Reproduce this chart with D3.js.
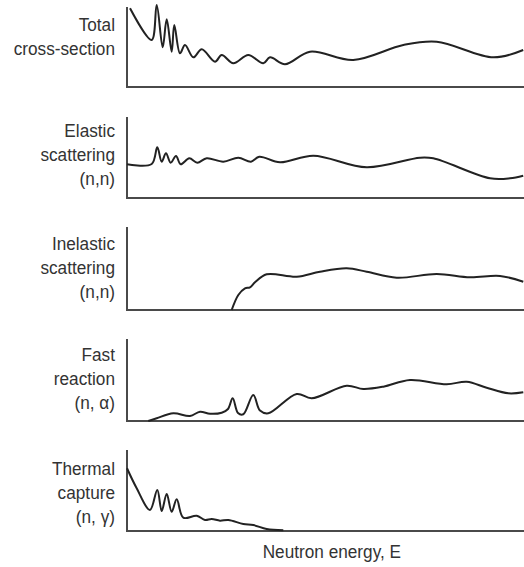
<!DOCTYPE html>
<html>
<head>
<meta charset="utf-8">
<script src="https://cdn.jsdelivr.net/npm/d3@7"></script>
<style>
  html, body { margin: 0; padding: 0; background: #fff; }
  svg { display: block; }
  text { font-family: "Liberation Sans", Arial, sans-serif; fill: #333; }
</style>
</head>
<body>
<svg id="chart" width="524" height="567"></svg>
<script>
// Schematic neutron cross-sections versus energy (arbitrary units).
// Energy runs 0–100, cross-section 0–10 on every panel.

const totalCross = [
  [0.76, 9.84], [6.22, 5.88], [7.48, 10.25], [8.99, 4.96], [10.0, 8.46],
  [11.26, 4.41], [11.91, 7.75], [13.35, 4.21], [14.61, 5.25], [16.70, 3.71],
  [18.82, 4.71], [22.17, 3.16], [23.85, 4.0], [26.78, 2.96], [30.55, 4.0],
  [34.33, 2.96], [36.02, 3.71], [39.8, 2.84], [46.1, 4.41], [57.0, 3.38],
  [69.6, 5.25], [78.0, 5.66], [92.3, 3.71], [99.8, 4.63]
];

const elastic = [
  [0, 4.21], [6.22, 4.25], [7.63, 6.34], [8.74, 4.54], [9.82, 5.58],
  [11.0, 4.41], [12.34, 5.25], [13.53, 4.21], [15.69, 4.96], [17.71, 4.41],
  [20.08, 4.96], [24.26, 4.54], [28.04, 5.04], [31.23, 4.54], [33.32, 5.16],
  [38.54, 4.46], [46.93, 5.29], [60.38, 3.84], [73.8, 5.04], [77.15, 4.96],
  [91.44, 2.46], [96.47, 2.46], [99.8, 2.79]
];

const inelastic = [
  [26.37, 0], [28.04, 1.88], [29.72, 2.71], [30.98, 2.84], [32.24, 3.46],
  [35.19, 4.46], [42.75, 4.16], [48.61, 4.79], [55.34, 5.21], [60.38, 4.79],
  [67.93, 4.04], [78.01, 4.5], [86.4, 4.09], [93.95, 4.25], [99.82, 3.54]
];

const fastReaction = [
  [5.37, 0], [7.48, 0.34], [11.66, 0.96], [15.87, 0.63], [18.39, 1.16],
  [20.91, 0.91], [23.85, 1.04], [25.44, 1.5], [26.62, 2.84], [27.96, 1.0],
  [29.29, 0.84], [31.81, 3.25], [33.5, 1.3], [35.59, 0.96], [42.75, 3.38],
  [46.52, 2.84], [55.34, 4.41], [59.52, 4.0], [64.56, 4.29], [71.28, 5.13],
  [80.53, 4.59], [85.57, 4.91], [90.6, 4.16], [96.05, 3.46], [99.82, 3.59]
];

const thermalCapture = [
  [0, 7.84], [2.44, 5.34], [5.79, 2.63], [7.63, 5.13], [8.74, 2.5],
  [10.0, 4.63], [11.26, 2.41], [12.52, 3.96], [14.18, 1.66], [17.56, 1.91],
  [19.65, 1.38], [21.33, 1.5], [23.43, 1.29], [25.52, 1.38], [29.29, 0.88],
  [31.81, 0.75], [35.19, 0.25], [39.37, 0.1]
];

const panelLabels = [
  ["Total", "cross-section"],
  ["Elastic", "scattering", "(n,n)"],
  ["Inelastic", "scattering", "(n,n)"],
  ["Fast", "reaction", "(n, \u03B1)"],
  ["Thermal", "capture", "(n, \u03B3)"]
];
const series = [totalCross, elastic, inelastic, fastReaction, thermalCapture];
const xTitle = "Neutron energy, E";

// Panel frames (top of the vertical axis, baseline of the panel)
const frames = [
  { top: 7,   bottom: 87,  labelY: 31.5 },
  { top: 117, bottom: 198, labelY: 137 },
  { top: 227, bottom: 310, labelY: 250 },
  { top: 339, bottom: 421, labelY: 361 },
  { top: 450, bottom: 531, labelY: 475 }
];

const svg = d3.select("#chart");
const left = 127, right = 524;
const narrow = 0.93;   // condensed look for the sans face
const x = d3.scaleLinear().domain([0, 100]).range([left, right]);

frames.forEach((f, i) => {
  const y = d3.scaleLinear().domain([0, 10]).range([f.bottom, f.bottom - 80]);
  const g = svg.append("g");

  // axes: vertical line and baseline
  g.append("line")
    .attr("x1", left).attr("x2", left)
    .attr("y1", f.top).attr("y2", f.bottom)
    .attr("stroke", "#4a4a4a").attr("stroke-width", 2);
  g.append("line")
    .attr("x1", left - 1).attr("x2", right)
    .attr("y1", f.bottom).attr("y2", f.bottom)
    .attr("stroke", "#4a4a4a").attr("stroke-width", 2);

  const line = d3.line()
    .x(d => x(d[0]))
    .y(d => y(d[1]))
    .curve(d3.curveCatmullRom.alpha(0.5));

  g.append("path")
    .datum(series[i])
    .attr("d", line)
    .attr("fill", "none")
    .attr("stroke", "#222")
    .attr("stroke-width", 2)
    .attr("stroke-linejoin", "round");

  // panel label, right-aligned left of the axis
  const t = g.append("text")
    .attr("transform", `translate(115,0) scale(${narrow},1)`)
    .attr("text-anchor", "end")
    .attr("font-size", 18.5);
  panelLabels[i].forEach((s, k) => {
    t.append("tspan")
      .attr("x", 0)
      .attr("y", f.labelY + k * 24)
      .text(s);
  });
});

svg.append("text")
  .attr("transform", `translate(262.7,557.5) scale(${narrow},1)`)
  .attr("text-anchor", "start")
  .attr("font-size", 18.5)
  .text(xTitle);
</script>
</body>
</html>
